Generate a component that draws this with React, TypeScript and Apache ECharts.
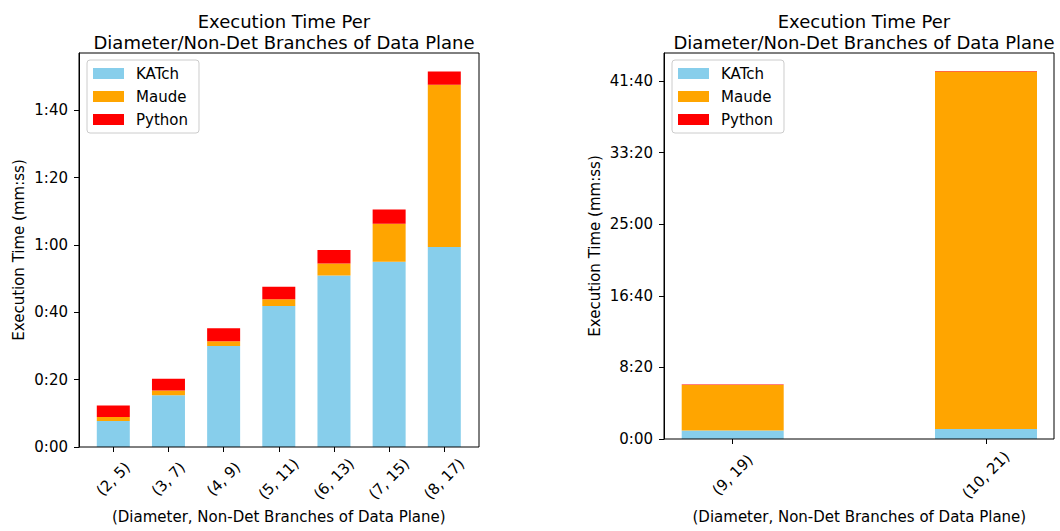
import React, { useEffect, useRef } from "react";
import * as echarts from "echarts";

const leftCategories = ["(2, 5)", "(3, 7)", "(4, 9)", "(5, 11)", "(6, 13)", "(7, 15)", "(8, 17)"];
const leftKATch = [7.7, 15.4, 30.0, 41.9, 50.9, 55.0, 59.4];
const leftMaude = [1.2, 1.4, 1.4, 2.0, 3.6, 11.3, 48.2];
const leftPython = [3.4, 3.5, 3.9, 3.7, 4.0, 4.2, 3.9];

const rightCategories = ["(9, 19)", "(10, 21)"];
const rightKATch = [60, 70];
const rightMaude = [317, 2496];
const rightPython = [4, 5];

const leftYTicks = [0, 20, 40, 60, 80, 100];
const rightYTicks = [0, 500, 1000, 1500, 2000, 2500];

const seriesNames = ["KATch", "Maude", "Python"];
const colors = ["#87CEEB", "#FFA500", "#FF0000"];

const FONT = "DejaVu Sans";
const FS = 15;

function mmss(v: number): string {
  const m = Math.floor(v / 60);
  const s = Math.round(v - m * 60);
  return `${m}:${s < 10 ? "0" + s : s}`;
}

export default function App() {
  const ref = useRef<HTMLDivElement>(null);
  useEffect(() => {
    if (!ref.current) return;
    const chart = echarts.init(ref.current, null, { renderer: "svg" });
    const leftData = [leftKATch, leftMaude, leftPython];
    const rightData = [rightKATch, rightMaude, rightPython];
    const axisLineY = { show: true, onZero: false, lineStyle: { color: "#000", width: 1 } };
    const axisTick = { show: true, inside: false, length: 5, lineStyle: { color: "#000", width: 1 } };
    const label = { color: "#000", fontSize: FS, fontFamily: FONT };
    const nameStyle = { color: "#000", fontSize: FS, fontFamily: FONT };
    const titleStyle = { fontSize: 18, fontWeight: "normal" as const, color: "#000", fontFamily: FONT, lineHeight: 21, align: "center" as const };
    const legendCommon = {
      orient: "vertical" as const,
      data: seriesNames,
      itemWidth: 31,
      itemHeight: 11,
      itemGap: 8,
      padding: [6, 11, 6, 6],
      borderColor: "#cccccc",
      borderWidth: 1,
      borderRadius: 3,
      backgroundColor: "rgba(255,255,255,0.8)",
      textStyle: { color: "#000", fontSize: FS, fontFamily: FONT, padding: [0, 0, 0, 7] },
      icon: "rect",
    };
    const option: any = {
      animation: false,
      textStyle: { fontFamily: FONT },
      title: [
        { text: "Execution Time Per\nDiameter/Non-Det Branches of Data Plane", left: 279, top: 6, textAlign: "center", textStyle: titleStyle },
        { text: "Execution Time Per\nDiameter/Non-Det Branches of Data Plane", left: 859, top: 6, textAlign: "center", textStyle: titleStyle },
      ],
      legend: [
        { ...legendCommon, left: 87, top: 60 },
        { ...legendCommon, left: 672, top: 60 },
      ],
      graphic: [
        { type: "rect", shape: { x: 79, y: 53, width: 400, height: 394 }, style: { fill: "none", stroke: "#000", lineWidth: 1 }, z: 10, silent: true },
        { type: "rect", shape: { x: 664, y: 53, width: 390, height: 386 }, style: { fill: "none", stroke: "#000", lineWidth: 1 }, z: 10, silent: true },
      ],
      grid: [
        { left: 113.3, top: 53, width: 331, height: 394, containLabel: false },
        { left: 732.7, top: 53, width: 253.3, height: 386, containLabel: false },
      ],
      xAxis: [
        {
          type: "category", gridIndex: 0, data: leftCategories, boundaryGap: false,
          axisLine: { show: false }, axisTick: { ...axisTick, interval: 0 },
          axisLabel: { ...label, interval: 0, rotate: 45, align: "center", verticalAlign: "middle", margin: 32 },
          name: "(Diameter, Non-Det Branches of Data Plane)", nameLocation: "middle", nameGap: 62,
          nameTextStyle: nameStyle,
        },
        {
          type: "category", gridIndex: 1, data: rightCategories, boundaryGap: false,
          axisLine: { show: false }, axisTick: { ...axisTick, interval: 0 },
          axisLabel: { ...label, interval: 0, rotate: 45, align: "center", verticalAlign: "middle", margin: 36 },
          name: "(Diameter, Non-Det Branches of Data Plane)", nameLocation: "middle", nameGap: 70,
          nameTextStyle: nameStyle,
        },
      ],
      yAxis: [
        {
          type: "value", gridIndex: 0, min: 0, max: 117, offset: 34.3,
          splitLine: { show: false }, axisLine: axisLineY,
          axisTick: { ...axisTick, customValues: leftYTicks },
          axisLabel: { ...label, customValues: leftYTicks, formatter: mmss, margin: 11 },
          name: "Execution Time (mm:ss)", nameLocation: "middle", nameGap: 53,
          nameTextStyle: nameStyle,
        },
        {
          type: "value", gridIndex: 1, min: 0, max: 2696, offset: 68.7,
          splitLine: { show: false }, axisLine: axisLineY,
          axisTick: { ...axisTick, customValues: rightYTicks },
          axisLabel: { ...label, customValues: rightYTicks, formatter: mmss, margin: 11 },
          name: "Execution Time (mm:ss)", nameLocation: "middle", nameGap: 62,
          nameTextStyle: nameStyle,
        },
      ],
      series: [
        ...seriesNames.map((name, k) => ({
          name, type: "bar", stack: "left", xAxisIndex: 0, yAxisIndex: 0, clip: false,
          barWidth: 33, itemStyle: { color: colors[k] }, data: leftData[k],
        })),
        ...seriesNames.map((name, k) => ({
          name, type: "bar", stack: "right", xAxisIndex: 1, yAxisIndex: 1, clip: false,
          barWidth: 102, itemStyle: { color: colors[k] }, data: rightData[k],
        })),
      ],
    };
    chart.setOption(option);
    return () => chart.dispose();
  }, []);
  return <div ref={ref} style={{ position: "fixed", left: 0, top: 0, width: 1060, height: 531, background: "#fff" }} />;
}
